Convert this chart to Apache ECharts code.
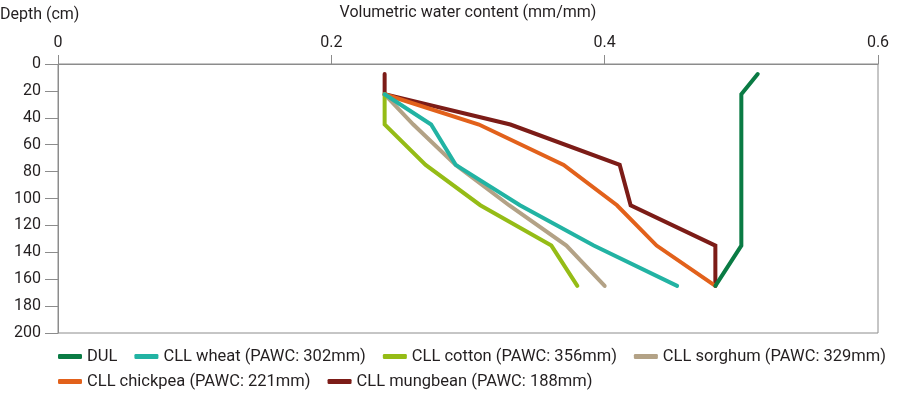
<!DOCTYPE html>
<html>
<head>
<meta charset="utf-8">
<script src="https://cdn.jsdelivr.net/npm/echarts@6/dist/echarts.min.js"></script>
<style>
  html, body { margin: 0; padding: 0; background: #fff; }
  #chart { width: 900px; height: 398px; }
</style>
</head>
<body>
<div id="chart"></div>
<script>
// depth of each soil layer midpoint (cm)
const depths = [7.5, 22.5, 45, 75, 105, 135, 165];
const xTicks = [0, 0.2, 0.4, 0.6];

// volumetric water content (mm/mm), null = no reading in that layer
const dul = [0.512, 0.5, 0.5, 0.5, 0.5, 0.5, 0.481];
const wheat = [null, 0.239, 0.273, 0.291, 0.338, 0.392, 0.453];
const cotton = [null, 0.239, 0.239, 0.269, 0.309, 0.361, 0.380];
const sorghum = [null, 0.239, 0.260, 0.291, 0.330, 0.372, 0.400];
const chickpea = [null, 0.239, 0.308, 0.370, 0.409, 0.438, 0.481];
const mungbean = [0.239, 0.239, 0.331, 0.411, 0.419, 0.481, 0.481];

const names = [
  'DUL',
  'CLL wheat (PAWC: 302mm)',
  'CLL cotton (PAWC: 356mm)',
  'CLL sorghum (PAWC: 329mm)',
  'CLL chickpea (PAWC: 221mm)',
  'CLL mungbean (PAWC: 188mm)'
];
const colors = ['#0a7b44', '#22b3a3', '#95bc16', '#b3a286', '#e2611b', '#7c1c17'];
const values = [dul, wheat, cotton, sorghum, chickpea, mungbean];

const toPairs = (arr) => arr
  .map((v, i) => (v === null ? null : [v, depths[i]]))
  .filter((p) => p !== null);

const chart = echarts.init(document.getElementById('chart'));
const font = 'Roboto';
const textColor = '#231f20';
const axisColor = '#8c8c8c';

const legendBase = {
  left: 58,
  icon: 'roundRect',
  itemWidth: 24,
  itemHeight: 5,
  itemGap: 17,
  padding: 0,
  textStyle: { fontFamily: font, fontSize: 16.5, color: textColor }
};

const option = {
  animation: false,
  title: {
    text: 'Depth (cm)',
    left: 0,
    top: 7,
    padding: 0,
    textStyle: { fontFamily: font, fontSize: 16, fontWeight: 'normal', color: textColor }
  },
  legend: [
    Object.assign({}, legendBase, { top: 348, data: names.slice(0, 4) }),
    Object.assign({}, legendBase, { top: 373, data: names.slice(4) })
  ],
  grid: {
    left: 58,
    right: 22,
    top: 59,
    bottom: 65,
    show: true,
    borderColor: axisColor,
    borderWidth: 1
  },
  xAxis: {
    type: 'value',
    position: 'top',
    min: 0,
    max: 0.6,
    interval: 0.2,
    name: 'Volumetric water content (mm/mm)',
    nameLocation: 'middle',
    nameGap: 43,
    nameTextStyle: { fontFamily: font, fontSize: 16, color: textColor },
    axisLine: { lineStyle: { color: axisColor, width: 1 } },
    axisTick: { show: true, length: 9, lineStyle: { color: axisColor } },
    axisLabel: {
      margin: 13,
      fontFamily: font,
      fontSize: 16,
      color: textColor,
      formatter: (v) => (xTicks.includes(Math.round(v * 10) / 10) ? String(Math.round(v * 10) / 10) : '')
    },
    splitLine: { show: false }
  },
  yAxis: {
    type: 'value',
    inverse: true,
    min: 0,
    max: 200,
    interval: 20,
    axisLine: { show: true, lineStyle: { color: axisColor, width: 1 } },
    axisTick: { show: true, length: 13, lineStyle: { color: axisColor } },
    axisLabel: { margin: 17, fontFamily: font, fontSize: 16, color: textColor },
    splitLine: { show: false }
  },
  series: names.map((name, i) => ({
    name: name,
    type: 'line',
    data: toPairs(values[i]),
    symbol: 'none',
    color: colors[i],
    lineStyle: { width: 4, color: colors[i], cap: 'round', join: 'miter' },
    z: 10 - i
  }))
};

chart.setOption(option);
</script>
</body>
</html>
